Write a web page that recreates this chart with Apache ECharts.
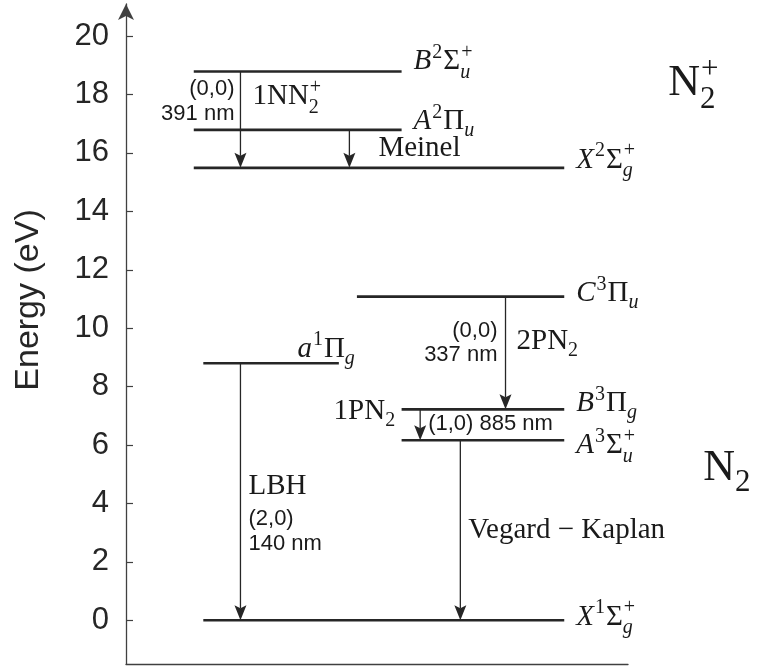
<!DOCTYPE html>
<html><head><meta charset="utf-8">
<script src="https://cdn.jsdelivr.net/npm/echarts@6/dist/echarts.min.js"></script>
<style>html,body{margin:0;padding:0;background:#fff}#c{width:759px;height:666px}</style>
</head><body><div id="c"></div>
<script>
// ---------- data ----------
const yTicks = [0, 2, 4, 6, 8, 10, 12, 14, 16, 18, 20];
const levelNames = ['B^2Σ^+_u', 'A^2Π_u', 'X^2Σ^+_g', 'C^3Π_u', 'a^1Π_g', 'B^3Π_g', 'A^3Σ^+_u', 'X^1Σ^+_g'];
const levelEnergy = [18.79, 16.79, 15.49, 11.08, 8.80, 7.22, 6.16, 0];
const levelStart = [13.5, 13.5, 13.5, 46.0, 15.4, 54.9, 54.9, 15.4];
const levelEnd = [54.9, 54.9, 87.3, 87.3, 42.4, 87.3, 87.3, 87.3];
const transNames = ['1NN_2^+', 'Meinel', '2PN_2', '1PN_2', 'LBH', 'Vegard − Kaplan'];
const transX = [22.8, 44.5, 75.6, 58.6, 22.8, 66.6];
const transFrom = [0, 1, 3, 5, 4, 6];
const transTo = [2, 2, 5, 6, 7, 7];
const transBand = ['(0,0)', '', '(0,0)', '(1,0)', '(2,0)', ''];
const transWavelength = ['391 nm', '', '337 nm', '885 nm', '140 nm', ''];
const speciesNames = ['N_2^+', 'N_2'];
const speciesLevel = [2, 6];

// ---------- text helpers ----------
const SERIF = 'Liberation Serif', SANS = 'Liberation Sans';
const INK = '#1a1a1a';
const mctx = document.createElement('canvas').getContext('2d');
function measure(t, size, fam, italic) {
  mctx.font = (italic ? 'italic ' : '') + size + 'px "' + fam + '"';
  return mctx.measureText(t).width;
}
// parse "B^2Σ^+_u" into runs and script groups
function parseMath(str, italicLetters) {
  const items = [];
  let i = 0;
  const isIt = ch => italicLetters && /[A-Za-z]/.test(ch);
  while (i < str.length) {
    const ch = str[i];
    if (ch === '^' || ch === '_') {
      let t = str[i + 1]; i += 2;
      const kind = ch === '^' ? 'sup' : 'sub';
      const last = items[items.length - 1];
      if (last && last.script && last[kind] === undefined) { last[kind] = t; last[kind + 'I'] = isIt(t); }
      else { const g = {script: true}; g[kind] = t; g[kind + 'I'] = isIt(t); items.push(g); }
    } else {
      const it = isIt(ch);
      const last = items[items.length - 1];
      if (last && !last.script && last.it === it) last.t += ch;
      else items.push({t: ch, it});
      i++;
    }
  }
  return items;
}
function buildText(items, x, base, align, S, fam, color) {
  const ss = Math.round(S * 0.7);
  const out = []; let cx = 0;
  items.forEach(p => {
    if (!p.script) {
      out.push({t: p.t, it: p.it, size: S, x: cx, dy: 0});
      cx += measure(p.t, S, fam, p.it);
    } else {
      let w = 0;
      const both = p.sup !== undefined && p.sub !== undefined;
      if (p.sup !== undefined) {
        out.push({t: p.sup, it: p.supI, size: ss, x: cx + 1, dy: -0.42 * S});
        w = Math.max(w, measure(p.sup, ss, fam, p.supI) + 1);
      }
      if (p.sub !== undefined) {
        out.push({t: p.sub, it: p.subI, size: ss, x: cx, dy: (both ? 0.27 : 0.22) * S});
        w = Math.max(w, measure(p.sub, ss, fam, p.subI));
      }
      cx += w + 1;
    }
  });
  const off = align === 'right' ? -cx : align === 'center' ? -cx / 2 : 0;
  return out.map(o => ({
    type: 'text',
    style: {
      text: o.t, x: x + off + o.x, y: base + o.dy - 0.34 * o.size,
      fontSize: o.size, fontFamily: fam, fontStyle: o.it ? 'italic' : 'normal',
      fill: color, align: 'left', verticalAlign: 'middle'
    }
  }));
}

// ---------- layout (pixel offsets for annotations) ----------
const SERIF_SIZE = 29, SANS_SIZE = 22, BIG_SIZE = 44;
const levelLabelLayout = [
  {dx: 12, dy: 0, align: 'left'},
  {dx: 12, dy: 1.5, align: 'left'},
  {dx: 12, dy: 2, align: 'left'},
  {dx: 12, dy: 7, align: 'left'},
  {dx: 17, dy: -4, align: 'right'},
  {dx: 12, dy: 4, align: 'left'},
  {dx: 12, dy: 15, align: 'left'},
  {dx: 12, dy: 7, align: 'left'}
];
const transLabelLayout = [
  {name: {dx: 12, dy: 35, align: 'left'}, info: {dx: -6, dy: [25, 50], align: 'right'}},
  {name: {dx: 29, dy: 28, align: 'left'}},
  {name: {dx: 11, dy: 55, align: 'left'}, info: {dx: -8, dy: [41.7, 66], align: 'right'}},
  {name: {dx: -24, dy: 12, align: 'right'}, info: {dx: 8, dy: [22], align: 'left'}},
  {name: {dx: 8, dy: 133, align: 'left'}, info: {dx: 8, dy: [163.4, 188.4], align: 'left'}},
  {name: {dx: 8, dy: 100, align: 'left'}}
];
const speciesLayout = [{dx: 104, dy: -69}, {dx: 139, dy: 43}];

const LINE = '#262626';

const chart = echarts.init(document.getElementById('c'), null, {renderer: 'canvas'});
chart.setOption({
  animation: false,
  backgroundColor: '#ffffff',
  grid: {left: 126, right: 131, top: 4, bottom: 2, containLabel: false, outerBoundsMode: 'none'},
  xAxis: {
    type: 'value', min: 0, max: 100,
    axisLine: {show: true, onZero: false, lineStyle: {color: '#404040', width: 1.3}},
    axisTick: {show: false}, axisLabel: {show: false}, splitLine: {show: false}
  },
  yAxis: {
    type: 'value', min: -1.5, max: 21.1,
    name: 'Energy (eV)', nameLocation: 'middle', nameGap: 80, nameRotate: 90,
    nameTextStyle: {fontFamily: SANS, fontSize: 34, color: '#262626', padding: [0, 0, 0, 68]},
    axisLine: {show: true, onZero: false, symbol: ['none', 'arrow'], symbolSize: [12, 16],
      lineStyle: {color: '#404040', width: 1.3}},
    axisTick: {show: true, inside: true, length: 7, customValues: yTicks,
      lineStyle: {color: '#404040', width: 1.2}},
    axisLabel: {customValues: yTicks, fontFamily: SANS, fontSize: 31, color: '#262626', margin: 17},
    splitLine: {show: false}
  },
  series: [
    {
      type: 'custom', name: 'levels', clip: false,
      data: levelEnergy.map((e, i) => [levelStart[i], levelEnd[i], e, i]),
      encode: {x: [0, 1], y: 2},
      renderItem: function (params, api) {
        const i = api.value(3);
        const p1 = api.coord([api.value(0), api.value(2)]);
        const p2 = api.coord([api.value(1), api.value(2)]);
        const L = levelLabelLayout[i];
        const children = [{
          type: 'line', shape: {x1: p1[0], y1: p1[1], x2: p2[0], y2: p2[1]},
          style: {stroke: LINE, lineWidth: 2.6}
        }];
        const txt = buildText(parseMath(levelNames[i], true), p2[0] + L.dx, p2[1] + L.dy, L.align, SERIF_SIZE, SERIF, INK);
        return {type: 'group', children: children.concat(txt)};
      }
    },
    {
      type: 'custom', name: 'transitions', clip: false,
      data: transX.map((x, j) => [x, levelEnergy[transFrom[j]], levelEnergy[transTo[j]], j]),
      encode: {x: 0, y: [1, 2]},
      renderItem: function (params, api) {
        const j = api.value(3);
        const a = api.coord([api.value(0), api.value(1)]);
        const b = api.coord([api.value(0), api.value(2)]);
        const hl = 15, hw = 6, notch = 3;
        const children = [
          {type: 'line', shape: {x1: a[0], y1: a[1], x2: b[0], y2: b[1] - hl + notch}, style: {stroke: LINE, lineWidth: 1.3}},
          {type: 'polygon', shape: {points: [[b[0], b[1]], [b[0] - hw, b[1] - hl], [b[0], b[1] - hl + notch], [b[0] + hw, b[1] - hl]]}, style: {fill: LINE}}
        ];
        const L = transLabelLayout[j];
        let txt = buildText(parseMath(transNames[j], false), a[0] + L.name.dx, a[1] + L.name.dy, L.name.align, SERIF_SIZE, SERIF, INK);
        if (L.info) {
          const lines = L.info.dy.length === 2 ? [transBand[j], transWavelength[j]] : [transBand[j] + ' ' + transWavelength[j]];
          lines.forEach((ln, k) => {
            txt = txt.concat(buildText([{t: ln, it: false}], a[0] + L.info.dx, a[1] + L.info.dy[k], L.info.align, SANS_SIZE, SANS, INK));
          });
        }
        return {type: 'group', children: children.concat(txt)};
      }
    },
    {
      type: 'custom', name: 'species', clip: false, silent: true,
      data: speciesLevel.map((li, k) => [levelEnd[li], levelEnergy[li], k]),
      encode: {x: 0, y: 1},
      renderItem: function (params, api) {
        const k = api.value(2);
        const p = api.coord([api.value(0), api.value(1)]);
        const L = speciesLayout[k];
        return {type: 'group', children: buildText(parseMath(speciesNames[k], false), p[0] + L.dx, p[1] + L.dy, 'left', BIG_SIZE, SERIF, INK)};
      }
    }
  ]
});
</script>
</body></html>
